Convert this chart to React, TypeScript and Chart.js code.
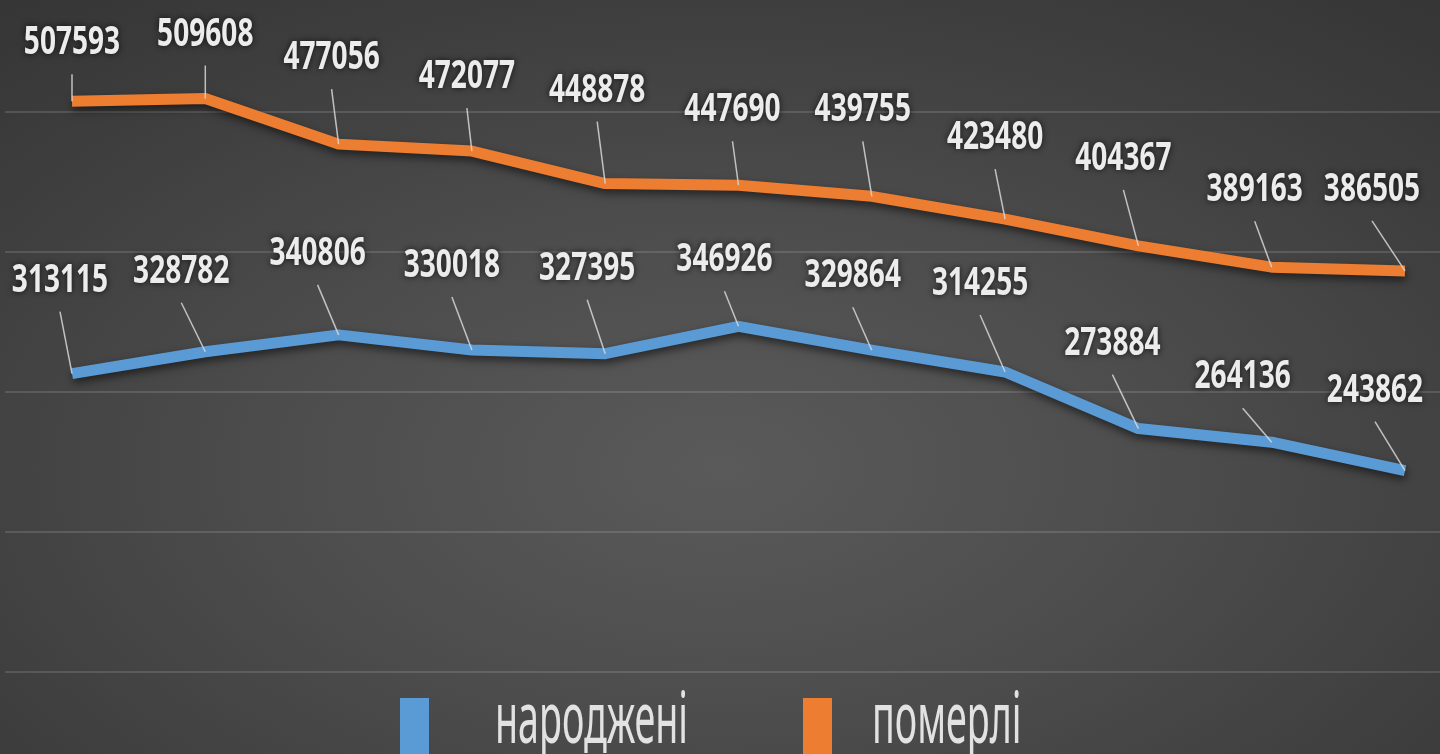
import React, { useEffect, useRef } from "react";
import { Chart, registerables } from "chart.js";

Chart.register(...registerables);

// Categories (the reference shows no axis labels; points are just ordered periods)
const categories = ["1", "2", "3", "4", "5", "6", "7", "8", "9", "10", "11"];

// Series values
const born = [313115, 328782, 340806, 330018, 327395, 346926, 329864, 314255, 273884, 264136, 243862];
const died = [507593, 509608, 477056, 472077, 448878, 447690, 439755, 423480, 404367, 389163, 386505];

// Series names (legend)
const seriesNames = ["народжені", "померлі"];

// Gridline values (no tick labels shown)
const gridValues = [100000, 200000, 300000, 400000, 500000];

// Label offsets (layout of data labels relative to their points)
const diedLabelOffsets: [number, number][] = [
  [0, -61], [0, -67], [-7, -89], [-5, -77], [-8, -96], [-6, -78],
  [-9, -89], [-10, -84], [-15, -90], [-17, -80], [-33, -84],
];
const bornLabelOffsets: [number, number][] = [
  [-12, -96], [-24, -83], [-21, -84], [-20, -87], [-18, -88], [-14, -69],
  [-19, -77], [-25, -91], [-26, -88], [-29, -68], [-30, -83],
];

const BLUE = "#5B9BD5";
const ORANGE = "#ED7D31";

export default function App() {
  const canvasRef = useRef<HTMLCanvasElement | null>(null);

  useEffect(() => {
    const canvas = canvasRef.current;
    if (!canvas) return;

    const gridPlugin = {
      id: "fullGrid",
      beforeDatasetsDraw(chart: any) {
        const ctx = chart.ctx;
        const y = chart.scales.y;
        ctx.save();
        ctx.strokeStyle = "rgba(255,255,255,0.13)";
        ctx.lineWidth = 2;
        for (const v of gridValues) {
          const py = Math.round(y.getPixelForValue(v));
          ctx.beginPath();
          ctx.moveTo(5, py);
          ctx.lineTo(chart.width, py);
          ctx.stroke();
        }
        ctx.restore();
      },
    };

    const shadowPlugin = {
      id: "lineShadow",
      beforeDatasetDraw(chart: any) {
        const ctx = chart.ctx;
        ctx.save();
        ctx.shadowColor = "rgba(0,0,0,0.55)";
        ctx.shadowBlur = 8;
        ctx.shadowOffsetX = 1;
        ctx.shadowOffsetY = 4;
      },
      afterDatasetDraw(chart: any) {
        chart.ctx.restore();
      },
    };

    const labelPlugin = {
      id: "leaderLabels",
      afterDatasetsDraw(chart: any) {
        const ctx = chart.ctx;
        const offsetsList = [bornLabelOffsets, diedLabelOffsets];
        chart.data.datasets.forEach((ds: any, di: number) => {
          const meta = chart.getDatasetMeta(di);
          const offs = offsetsList[di];
          meta.data.forEach((pt: any, i: number) => {
            const [dx, dy] = offs[i];
            const lx = pt.x + dx;
            const ly = pt.y + dy;
            // leader line
            const startY = ly + 34;
            if (startY < pt.y - 2) {
              ctx.save();
              ctx.strokeStyle = "rgba(215,215,215,0.85)";
              ctx.lineWidth = 1.5;
              ctx.beginPath();
              ctx.moveTo(lx, startY);
              ctx.lineTo(pt.x, pt.y);
              ctx.stroke();
              ctx.restore();
            }
            // text
            ctx.save();
            ctx.translate(lx, ly + 14);
            ctx.scale(0.72, 1);
            ctx.font = 'bold 39px "Noto Sans"';
            ctx.textAlign = "center";
            ctx.textBaseline = "alphabetic";
            ctx.shadowColor = "rgba(0,0,0,0.75)";
            ctx.shadowBlur = 6;
            ctx.fillStyle = "#ececec";
            ctx.fillText(String(ds.data[i]), 0, 0);
            ctx.restore();
          });
        });
      },
    };

    const legendPlugin = {
      id: "customLegend",
      afterDraw(chart: any) {
        const ctx = chart.ctx;
        const items = [
          { color: BLUE, text: seriesNames[0], boxX: 400, textX: 495 },
          { color: ORANGE, text: seriesNames[1], boxX: 803, textX: 872 },
        ];
        for (const it of items) {
          ctx.save();
          ctx.fillStyle = it.color;
          ctx.fillRect(it.boxX, 698, 29, 56);
          ctx.restore();
          ctx.save();
          ctx.translate(it.textX, 743);
          ctx.scale(0.53, 1);
          ctx.font = '71px "Noto Sans"';
          ctx.textAlign = "left";
          ctx.textBaseline = "alphabetic";
          ctx.fillStyle = "#e2e2e2";
          ctx.fillText(it.text, 0, 0);
          ctx.restore();
        }
      },
    };

    const chart = new Chart(canvas, {
      type: "line",
      data: {
        labels: categories,
        datasets: [
          {
            label: seriesNames[0],
            data: born,
            borderColor: BLUE,
            backgroundColor: BLUE,
            borderWidth: 11,
            pointRadius: 0,
            tension: 0,
            borderJoinStyle: "round",
            borderCapStyle: "butt",
          },
          {
            label: seriesNames[1],
            data: died,
            borderColor: ORANGE,
            backgroundColor: ORANGE,
            borderWidth: 11,
            pointRadius: 0,
            tension: 0,
            borderJoinStyle: "round",
            borderCapStyle: "butt",
          },
        ],
      },
      options: {
        animation: false,
        responsive: true,
        maintainAspectRatio: false,
        clip: false as any,
        layout: { padding: { left: 72, right: 35, top: 0, bottom: 82 } },
        plugins: {
          legend: { display: false },
          tooltip: { enabled: false },
        },
        scales: {
          x: { display: false, offset: false },
          y: {
            display: false,
            min: 100000,
            max: 580000,
            grid: { display: false },
          },
        },
      },
      plugins: [gridPlugin, shadowPlugin, labelPlugin, legendPlugin],
    });

    return () => chart.destroy();
  }, []);

  return (
    <div
      style={{
        position: "fixed",
        left: 0,
        top: 0,
        width: 1440,
        height: 754,
        background:
          "radial-gradient(ellipse 75% 80% at 50% 62%, #5a5a5a 0%, #4d4d4d 40%, #3f3f3f 75%, #363636 100%)",
      }}
    >
      <canvas ref={canvasRef} />
    </div>
  );
}
